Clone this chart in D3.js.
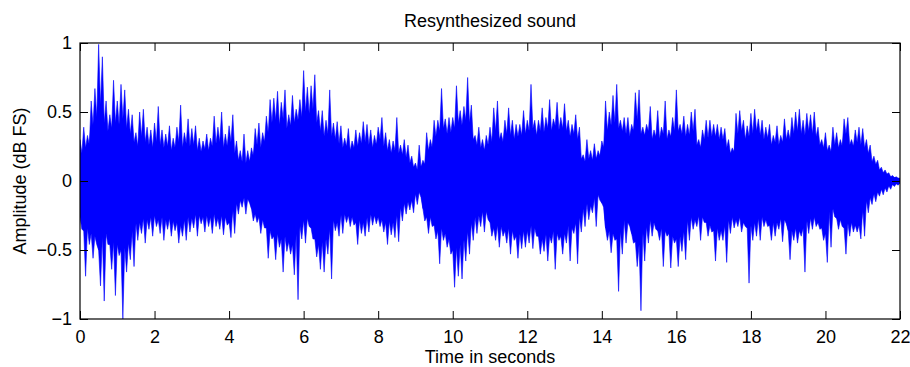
<!DOCTYPE html>
<html><head><meta charset="utf-8">
<script src="https://cdn.jsdelivr.net/npm/d3@7"></script>
<style>
body{margin:0;background:#fff}
text{font-family:"Liberation Sans",Arial,Helvetica,sans-serif;fill:#000}
</style>
</head><body>
<svg id="chart" width="910" height="367"></svg>
<script>
// ---- data ----
const timeStep = 0.1;   // seconds between envelope readings
const timeDomain = [0, 22];
const ampDomain = [-1, 1];
// positive peak (spike top) per 0.1 s bin
const upperPeaks = [
 0.30,0.39,0.33,0.58,0.67,0.99,0.90,0.58,0.48,0.73,
 0.58,0.70,0.66,0.52,0.48,0.35,0.50,0.52,0.39,0.37,
 0.42,0.54,0.37,0.34,0.40,0.31,0.39,0.55,0.35,0.45,
 0.38,0.40,0.31,0.29,0.34,0.31,0.47,0.39,0.50,0.34,
 0.40,0.48,0.29,0.22,0.34,0.22,0.24,0.38,0.42,0.35,
 0.47,0.59,0.60,0.65,0.57,0.66,0.48,0.62,0.52,0.59,
 0.80,0.68,0.69,0.77,0.51,0.51,0.44,0.66,0.42,0.43,
 0.40,0.31,0.38,0.29,0.37,0.35,0.43,0.41,0.37,0.33,
 0.39,0.46,0.35,0.30,0.29,0.46,0.26,0.30,0.26,0.18,
 0.13,0.26,0.15,0.35,0.30,0.44,0.44,0.67,0.45,0.46,
 0.46,0.69,0.51,0.54,0.75,0.55,0.33,0.39,0.30,0.33,
 0.39,0.53,0.58,0.35,0.44,0.53,0.44,0.41,0.41,0.51,
 0.44,0.70,0.44,0.44,0.53,0.46,0.59,0.45,0.57,0.46,
 0.56,0.44,0.41,0.48,0.39,0.19,0.30,0.22,0.27,0.22,
 0.29,0.58,0.50,0.62,0.70,0.44,0.46,0.46,0.41,0.64,
 0.66,0.39,0.41,0.54,0.37,0.51,0.39,0.58,0.37,0.46,
 0.66,0.41,0.47,0.41,0.50,0.52,0.30,0.37,0.44,0.44,
 0.41,0.41,0.39,0.38,0.30,0.24,0.49,0.51,0.44,0.40,
 0.49,0.52,0.45,0.44,0.39,0.41,0.33,0.40,0.33,0.45,
 0.37,0.46,0.50,0.52,0.44,0.49,0.48,0.50,0.39,0.30,
 0.35,0.26,0.39,0.35,0.30,0.45,0.46,0.30,0.37,0.39,
 0.38,0.30,0.26,0.18,0.15,0.10,0.08,0.06,0.04,0.03,
 0.02
];
// positive solid level between spikes, per 0.1 s bin
const upperValleys = [
 0.20,0.24,0.26,0.40,0.46,0.55,0.42,0.36,0.38,0.42,
 0.40,0.45,0.38,0.34,0.28,0.25,0.32,0.28,0.26,0.24,
 0.28,0.26,0.24,0.25,0.22,0.24,0.28,0.24,0.27,0.25,
 0.26,0.22,0.21,0.23,0.22,0.25,0.27,0.28,0.24,0.25,
 0.28,0.20,0.15,0.14,0.13,0.14,0.18,0.26,0.24,0.28,
 0.34,0.42,0.44,0.40,0.45,0.38,0.40,0.42,0.44,0.46,
 0.50,0.48,0.52,0.42,0.36,0.32,0.34,0.32,0.30,0.27,
 0.24,0.25,0.22,0.24,0.25,0.27,0.28,0.26,0.24,0.26,
 0.30,0.25,0.22,0.20,0.22,0.20,0.19,0.17,0.13,0.10,
 0.08,0.10,0.12,0.22,0.24,0.32,0.36,0.38,0.34,0.35,
 0.38,0.42,0.40,0.44,0.42,0.30,0.26,0.24,0.22,0.26,
 0.28,0.36,0.30,0.28,0.34,0.33,0.30,0.32,0.33,0.34,
 0.36,0.38,0.33,0.36,0.35,0.38,0.36,0.40,0.37,0.38,
 0.36,0.32,0.34,0.30,0.16,0.14,0.16,0.15,0.16,0.18,
 0.24,0.36,0.40,0.42,0.38,0.36,0.34,0.32,0.36,0.44,
 0.34,0.33,0.36,0.30,0.32,0.30,0.34,0.30,0.32,0.36,
 0.36,0.34,0.32,0.33,0.36,0.26,0.24,0.30,0.31,0.32,
 0.32,0.30,0.30,0.24,0.20,0.21,0.34,0.36,0.30,0.32,
 0.34,0.36,0.33,0.30,0.31,0.26,0.28,0.26,0.28,0.30,
 0.30,0.34,0.36,0.34,0.33,0.36,0.34,0.32,0.26,0.24,
 0.22,0.21,0.26,0.24,0.25,0.34,0.26,0.25,0.28,0.26,
 0.24,0.20,0.14,0.12,0.08,0.06,0.05,0.03,0.025,0.02,
 0.015
];
// negative peak (spike bottom) per 0.1 s bin
const lowerPeaks = [
 -0.35,-0.69,-0.46,-0.56,-0.46,-0.76,-0.87,-0.46,-0.64,-0.83,
 -0.54,-1.00,-0.66,-0.57,-0.62,-0.43,-0.38,-0.45,-0.35,-0.40,
 -0.33,-0.38,-0.43,-0.35,-0.40,-0.36,-0.45,-0.40,-0.43,-0.37,
 -0.34,-0.40,-0.31,-0.37,-0.33,-0.38,-0.33,-0.35,-0.39,-0.32,
 -0.41,-0.38,-0.24,-0.19,-0.24,-0.16,-0.29,-0.30,-0.38,-0.34,
 -0.56,-0.42,-0.57,-0.48,-0.66,-0.51,-0.53,-0.68,-0.86,-0.42,
 -0.45,-0.33,-0.42,-0.55,-0.64,-0.66,-0.53,-0.71,-0.36,-0.40,
 -0.38,-0.30,-0.33,-0.32,-0.46,-0.38,-0.40,-0.37,-0.32,-0.31,
 -0.33,-0.37,-0.46,-0.39,-0.41,-0.44,-0.29,-0.24,-0.21,-0.23,
 -0.17,-0.12,-0.29,-0.38,-0.33,-0.42,-0.60,-0.43,-0.48,-0.53,
 -0.77,-0.69,-0.71,-0.58,-0.53,-0.43,-0.38,-0.33,-0.37,-0.28,
 -0.40,-0.43,-0.48,-0.40,-0.45,-0.53,-0.43,-0.56,-0.49,-0.48,
 -0.45,-0.49,-0.40,-0.53,-0.51,-0.58,-0.45,-0.64,-0.43,-0.53,
 -0.45,-0.58,-0.38,-0.60,-0.37,-0.33,-0.28,-0.23,-0.33,-0.14,
 -0.19,-0.43,-0.52,-0.43,-0.80,-0.53,-0.45,-0.33,-0.45,-0.62,
 -0.94,-0.58,-0.45,-0.40,-0.35,-0.43,-0.62,-0.40,-0.63,-0.45,
 -0.62,-0.51,-0.57,-0.43,-0.35,-0.33,-0.43,-0.30,-0.40,-0.37,
 -0.58,-0.43,-0.43,-0.59,-0.38,-0.34,-0.33,-0.37,-0.33,-0.74,
 -0.43,-0.40,-0.43,-0.33,-0.33,-0.43,-0.40,-0.35,-0.44,-0.31,
 -0.57,-0.43,-0.45,-0.40,-0.66,-0.38,-0.35,-0.33,-0.35,-0.43,
 -0.59,-0.48,-0.26,-0.35,-0.33,-0.53,-0.40,-0.37,-0.37,-0.42,
 -0.40,-0.23,-0.17,-0.15,-0.11,-0.10,-0.08,-0.06,-0.04,-0.03,
 -0.02
];
// negative solid level between spikes, per 0.1 s bin
const lowerValleys = [
 -0.26,-0.36,-0.34,-0.38,-0.40,-0.50,-0.40,-0.38,-0.46,-0.44,
 -0.46,-0.50,-0.48,-0.45,-0.36,-0.30,-0.30,-0.27,-0.28,-0.26,
 -0.25,-0.28,-0.26,-0.28,-0.27,-0.29,-0.30,-0.32,-0.28,-0.26,
 -0.27,-0.24,-0.25,-0.26,-0.25,-0.26,-0.24,-0.27,-0.25,-0.26,
 -0.30,-0.20,-0.16,-0.14,-0.12,-0.13,-0.20,-0.24,-0.26,-0.28,
 -0.34,-0.36,-0.40,-0.38,-0.42,-0.40,-0.44,-0.46,-0.38,-0.32,
 -0.28,-0.27,-0.34,-0.42,-0.46,-0.44,-0.42,-0.34,-0.28,-0.30,
 -0.24,-0.24,-0.25,-0.26,-0.30,-0.28,-0.30,-0.26,-0.24,-0.25,
 -0.26,-0.28,-0.30,-0.29,-0.30,-0.24,-0.19,-0.16,-0.15,-0.14,
 -0.09,-0.08,-0.20,-0.26,-0.26,-0.32,-0.36,-0.34,-0.38,-0.42,
 -0.50,-0.48,-0.46,-0.42,-0.36,-0.30,-0.26,-0.25,-0.22,-0.22,
 -0.30,-0.34,-0.32,-0.33,-0.36,-0.34,-0.36,-0.40,-0.38,-0.36,
 -0.36,-0.32,-0.34,-0.40,-0.42,-0.38,-0.40,-0.36,-0.38,-0.40,
 -0.38,-0.32,-0.34,-0.30,-0.26,-0.20,-0.16,-0.18,-0.12,-0.10,
 -0.16,-0.34,-0.36,-0.38,-0.42,-0.36,-0.28,-0.30,-0.38,-0.44,
 -0.46,-0.36,-0.33,-0.28,-0.30,-0.36,-0.34,-0.36,-0.38,-0.40,
 -0.42,-0.40,-0.36,-0.28,-0.26,-0.28,-0.25,-0.26,-0.30,-0.32,
 -0.36,-0.34,-0.36,-0.32,-0.28,-0.26,-0.28,-0.26,-0.30,-0.34,
 -0.32,-0.30,-0.27,-0.26,-0.28,-0.32,-0.30,-0.30,-0.27,-0.28,
 -0.36,-0.36,-0.34,-0.36,-0.34,-0.28,-0.27,-0.26,-0.30,-0.34,
 -0.38,-0.22,-0.20,-0.27,-0.28,-0.34,-0.30,-0.30,-0.32,-0.32,
 -0.20,-0.14,-0.12,-0.09,-0.08,-0.06,-0.05,-0.035,-0.025,-0.02,
 -0.015
];
const xTicks = [0,2,4,6,8,10,12,14,16,18,20,22];
const yTicks = [-1,-0.5,0,0.5,1];
const titleText = "Resynthesized sound";
const xLabelText = "Time in seconds";
const yLabelText = "Amplitude (dB FS)";

// ---- drawing ----
const plot = {left:80, right:900, top:43, bottom:319};
const FS = 18;
const BLUE = "#0000ff";
const svg = d3.select("#chart");
const x = d3.scaleLinear().domain(timeDomain).range([plot.left, plot.right]);
const y = d3.scaleLinear().domain(ampDomain).range([plot.bottom, plot.top]);

svg.append("defs").append("clipPath").attr("id","clip")
  .append("rect").attr("x",plot.left).attr("y",plot.top)
  .attr("width",plot.right-plot.left).attr("height",plot.bottom-plot.top);

const wave = svg.append("g").attr("clip-path","url(#clip)");

// upper half: spike at bin start, solid valley half a bin later
const upperPts = [], lowerPts = [];
upperPeaks.forEach((u,i)=>{
  upperPts.push({t:i*timeStep, hi:u, lo:lowerValleys[i]});
  upperPts.push({t:i*timeStep+timeStep/2, hi:upperValleys[i], lo:lowerValleys[i]});
});
// lower half: valley at bin start, spike half a bin later
lowerPeaks.forEach((l,i)=>{
  lowerPts.push({t:i*timeStep, lo:lowerValleys[i], hi:upperValleys[i]});
  lowerPts.push({t:i*timeStep+timeStep/2, lo:l, hi:upperValleys[i]});
});
const area = d3.area().x(d=>x(d.t)).y0(d=>y(d.lo)).y1(d=>y(d.hi));
wave.append("path").attr("d", area(upperPts)).attr("fill",BLUE)
  .attr("stroke",BLUE).attr("stroke-width",0.6).attr("stroke-linejoin","miter");
wave.append("path").attr("d", area(lowerPts)).attr("fill",BLUE)
  .attr("stroke",BLUE).attr("stroke-width",0.6).attr("stroke-linejoin","miter");

// axes
const fmt = d => d3.format("")(d).replace("-", "\u2212");
const styleAxis = g => {
  g.select(".domain").remove();
  g.selectAll(".tick line").attr("stroke","#000").attr("stroke-width",1);
  g.selectAll(".tick text").attr("font-size",FS).attr("font-family","Liberation Sans, Arial, sans-serif").attr("fill","#000");
};
svg.append("g").attr("transform",`translate(0,${plot.bottom})`)
  .call(d3.axisBottom(x).tickValues(xTicks).tickSizeInner(-8).tickSizeOuter(0).tickPadding(11).tickFormat(fmt))
  .call(styleAxis);
svg.append("g").attr("transform",`translate(0,${plot.top})`)
  .call(d3.axisTop(x).tickValues(xTicks).tickSizeInner(-8).tickSizeOuter(0).tickFormat(""))
  .call(styleAxis);
svg.append("g").attr("transform",`translate(${plot.left},0)`)
  .call(d3.axisLeft(y).tickValues(yTicks).tickSizeInner(-8).tickSizeOuter(0).tickPadding(8).tickFormat(fmt))
  .call(styleAxis);
svg.append("g").attr("transform",`translate(${plot.right},0)`)
  .call(d3.axisRight(y).tickValues(yTicks).tickSizeInner(-8).tickSizeOuter(0).tickFormat(""))
  .call(styleAxis);

// frame
svg.append("rect").attr("x",plot.left).attr("y",plot.top)
  .attr("width",plot.right-plot.left).attr("height",plot.bottom-plot.top)
  .attr("fill","none").attr("stroke","#000").attr("stroke-width",1.2);

// texts
svg.append("text").attr("x",(plot.left+plot.right)/2).attr("y",27)
  .attr("text-anchor","middle").attr("font-size",FS).text(titleText);
svg.append("text").attr("x",(plot.left+plot.right)/2).attr("y",363)
  .attr("text-anchor","middle").attr("font-size",FS).text(xLabelText);
svg.append("text").attr("transform",`translate(26,${(plot.top+plot.bottom)/2}) rotate(-90)`)
  .attr("text-anchor","middle").attr("font-size",FS).text(yLabelText);
</script>
</body></html>
